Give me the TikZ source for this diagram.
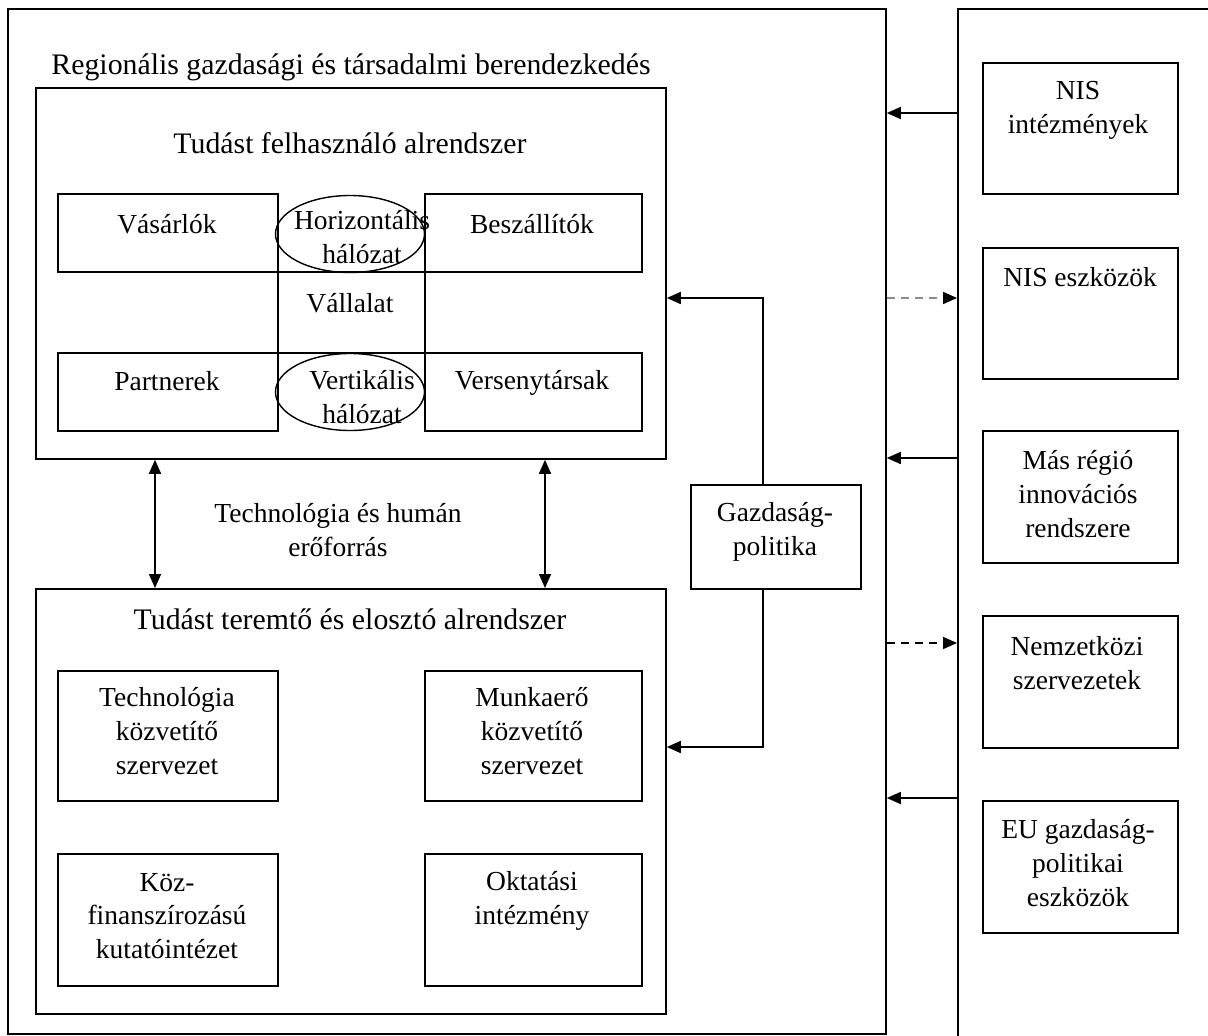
\documentclass[tikz,border=0pt]{standalone}
\usepackage{fontspec}
\setmainfont{Liberation Serif}
\usetikzlibrary{arrows.meta,shapes.geometric}
\begin{document}
\begin{tikzpicture}[x=1pt,y=-1pt,
  box/.style={draw, line width=1.8pt, inner sep=0pt, anchor=north west},
  oval/.style={draw, ellipse, line width=1.4pt, inner sep=0pt, minimum width=149pt, minimum height=77pt},
  txt/.style={font=\fontsize{27.5}{33.8}\selectfont, align=center, inner sep=0pt},
  ttl/.style={font=\fontsize{29.8}{34}\selectfont, inner sep=0pt},
  arr/.style={line width=1.6pt, -{Triangle[length=14pt,width=12pt]}},
  darr/.style={line width=1.6pt, {Triangle[length=14pt,width=12pt]}-{Triangle[length=14pt,width=12pt]}},
  dasharr/.style={line width=1.6pt, dash pattern=on 8pt off 6pt, -{Triangle[length=14pt,width=12pt,color=black]}},
]
\useasboundingbox (0,0) rectangle (1208,1036);
\clip (0,0) rectangle (1208,1036);

% outer frames
\node[box, minimum width=878pt, minimum height=1025pt] (regio) at (7,8) {};
\node[box, minimum width=300pt, minimum height=1100pt] (nis) at (957,8) {};
\node[ttl] (regiot) at (351,67) {Regionális gazdasági és társadalmi berendezkedés};

% upper subsystem
\node[box, minimum width=630pt, minimum height=371pt] (felh) at (35,87) {};
\node[ttl] (felht) at (350,143) {Tudást felhasználó alrendszer};
\node[box, minimum width=220pt, minimum height=78pt] (vas) at (57,193) {};
\node[box, minimum width=217pt, minimum height=78pt] (besz) at (424,193) {};
\node[box, minimum width=220pt, minimum height=78pt] (part) at (57,352) {};
\node[box, minimum width=217pt, minimum height=78pt] (vers) at (424,352) {};
\node[box, minimum width=147pt, minimum height=81pt] (vall) at (277,271) {};
\node[txt] (vast) at (167,224) {Vásárlók};
\node[txt] (beszt) at (532,224) {Beszállítók};
\node[txt] (partt) at (167,381) {Partnerek};
\node[txt] (verst) at (532,383) {Versenytársak};
\node[txt] (vallt) at (350,303) {Vállalat};
\node[oval] (horiz) at (350,234) {};
\node[oval] (vert) at (350,392) {};
\node[txt] (horizt) at (362,237) {Horizontális\\hálózat};
\node[txt] (vertt) at (362,397) {Vertikális\\hálózat};

% middle label
\node[txt] (tech-hum) at (338,530) {Technológia és humán\\erőforrás};

% lower subsystem
\node[box, minimum width=630pt, minimum height=425pt] (teremt) at (35,588) {};
\node[ttl] (teremtt) at (350,619) {Tudást teremtő és elosztó alrendszer};
\node[box, minimum width=220pt, minimum height=130pt] (tech) at (57,670) {};
\node[box, minimum width=217pt, minimum height=130pt] (munka) at (424,670) {};
\node[box, minimum width=220pt, minimum height=132pt] (koz) at (57,853) {};
\node[box, minimum width=217pt, minimum height=132pt] (okt) at (424,853) {};
\node[txt] (techt) at (167,731) {Technológia\\közvetítő\\szervezet};
\node[txt] (munkat) at (532,731) {Munkaerő\\közvetítő\\szervezet};
\node[txt] (kozt) at (167,916) {Köz-\\finanszírozású\\kutatóintézet};
\node[txt] (oktt) at (532,901) {Oktatási\\intézmény};

% economic policy
\node[box, minimum width=170pt, minimum height=104pt] (gp) at (690,484) {};
\node[txt] (gpt) at (775,532) {Gazdaság-\\politika};

% right column
\node[box, minimum width=195pt, minimum height=131pt] (nisi) at (982,62) {};
\node[box, minimum width=195pt, minimum height=131pt] (nise) at (982,247) {};
\node[box, minimum width=195pt, minimum height=132pt] (mas) at (982,430) {};
\node[box, minimum width=195pt, minimum height=132pt] (nemz) at (982,615) {};
\node[box, minimum width=195pt, minimum height=132pt] (eu) at (982,800) {};
\node[txt] (nisit) at (1078,110) {NIS\\intézmények};
\node[txt] (niset) at (1080,277) {NIS eszközök};
\node[txt] (mast) at (1078,494) {Más régió\\innovációs\\rendszere};
\node[txt] (nemzt) at (1077,663) {Nemzetközi\\szervezetek};
\node[txt] (eut) at (1078,863) {EU gazdaság-\\politikai\\eszközök};

% connectors
\draw[darr] (felh.south -| 155,0) -- (teremt.north -| 155,0);
\draw[darr] (felh.south -| 545,0) -- (teremt.north -| 545,0);
\draw[arr] (gp.north -| 763,0) -- (763,298) -- (felh.east |- 0,298);
\draw[arr] (gp.south -| 763,0) -- (763,747) -- (teremt.east |- 0,747);
\draw[arr] (nis.west |- 0,113) -- (regio.east |- 0,113);
\draw[dasharr, draw=black!45] (regio.east |- 0,298) -- (nis.west |- 0,298);
\draw[arr] (nis.west |- 0,458) -- (regio.east |- 0,458);
\draw[dasharr] (regio.east |- 0,643) -- (nis.west |- 0,643);
\draw[arr] (nis.west |- 0,798) -- (regio.east |- 0,798);
\end{tikzpicture}
\end{document}
